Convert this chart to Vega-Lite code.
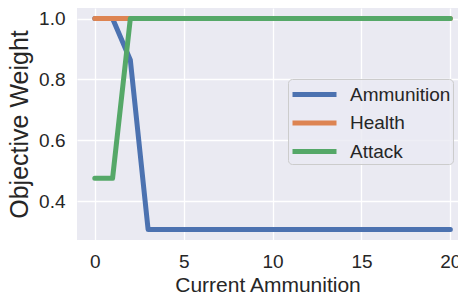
{
  "$schema": "https://vega.github.io/schema/vega-lite/v6.json",
  "width": 381,
  "height": 232,
  "autosize": {"type": "none"},
  "padding": {"left": 77, "top": 8, "right": 0, "bottom": 53},
  "background": "white",
  "config": {
    "font": "Liberation Sans",
    "view": {"fill": "#EAEAF2", "stroke": null},
    "axis": {
      "grid": true,
      "gridColor": "white",
      "gridWidth": 1.3,
      "domain": false,
      "ticks": false,
      "labelColor": "#262626",
      "titleColor": "#262626",
      "titleFontWeight": "normal",
      "labelFontSize": 19,
      "labelFont": "Liberation Sans",
      "titleFont": "Liberation Sans"
    }
  },
  "data": {
    "values": [
      {"x": 0, "s": "Ammunition", "y": 1.0}, {"x": 1, "s": "Ammunition", "y": 1.0}, {"x": 2, "s": "Ammunition", "y": 0.864}, {"x": 3, "s": "Ammunition", "y": 0.307},
      {"x": 4, "s": "Ammunition", "y": 0.307}, {"x": 5, "s": "Ammunition", "y": 0.307}, {"x": 6, "s": "Ammunition", "y": 0.307}, {"x": 7, "s": "Ammunition", "y": 0.307},
      {"x": 8, "s": "Ammunition", "y": 0.307}, {"x": 9, "s": "Ammunition", "y": 0.307}, {"x": 10, "s": "Ammunition", "y": 0.307}, {"x": 11, "s": "Ammunition", "y": 0.307},
      {"x": 12, "s": "Ammunition", "y": 0.307}, {"x": 13, "s": "Ammunition", "y": 0.307}, {"x": 14, "s": "Ammunition", "y": 0.307}, {"x": 15, "s": "Ammunition", "y": 0.307},
      {"x": 16, "s": "Ammunition", "y": 0.307}, {"x": 17, "s": "Ammunition", "y": 0.307}, {"x": 18, "s": "Ammunition", "y": 0.307}, {"x": 19, "s": "Ammunition", "y": 0.307},
      {"x": 20, "s": "Ammunition", "y": 0.307},
      {"x": 0, "s": "Health", "y": 1.0}, {"x": 1, "s": "Health", "y": 1.0}, {"x": 2, "s": "Health", "y": 1.0}, {"x": 3, "s": "Health", "y": 1.0},
      {"x": 4, "s": "Health", "y": 1.0}, {"x": 5, "s": "Health", "y": 1.0}, {"x": 6, "s": "Health", "y": 1.0}, {"x": 7, "s": "Health", "y": 1.0},
      {"x": 8, "s": "Health", "y": 1.0}, {"x": 9, "s": "Health", "y": 1.0}, {"x": 10, "s": "Health", "y": 1.0}, {"x": 11, "s": "Health", "y": 1.0},
      {"x": 12, "s": "Health", "y": 1.0}, {"x": 13, "s": "Health", "y": 1.0}, {"x": 14, "s": "Health", "y": 1.0}, {"x": 15, "s": "Health", "y": 1.0},
      {"x": 16, "s": "Health", "y": 1.0}, {"x": 17, "s": "Health", "y": 1.0}, {"x": 18, "s": "Health", "y": 1.0}, {"x": 19, "s": "Health", "y": 1.0},
      {"x": 20, "s": "Health", "y": 1.0},
      {"x": 0, "s": "Attack", "y": 0.475}, {"x": 1, "s": "Attack", "y": 0.475}, {"x": 2, "s": "Attack", "y": 1.0}, {"x": 3, "s": "Attack", "y": 1.0},
      {"x": 4, "s": "Attack", "y": 1.0}, {"x": 5, "s": "Attack", "y": 1.0}, {"x": 6, "s": "Attack", "y": 1.0}, {"x": 7, "s": "Attack", "y": 1.0},
      {"x": 8, "s": "Attack", "y": 1.0}, {"x": 9, "s": "Attack", "y": 1.0}, {"x": 10, "s": "Attack", "y": 1.0}, {"x": 11, "s": "Attack", "y": 1.0},
      {"x": 12, "s": "Attack", "y": 1.0}, {"x": 13, "s": "Attack", "y": 1.0}, {"x": 14, "s": "Attack", "y": 1.0}, {"x": 15, "s": "Attack", "y": 1.0},
      {"x": 16, "s": "Attack", "y": 1.0}, {"x": 17, "s": "Attack", "y": 1.0}, {"x": 18, "s": "Attack", "y": 1.0}, {"x": 19, "s": "Attack", "y": 1.0},
      {"x": 20, "s": "Attack", "y": 1.0}
    ]
  },
  "encoding": {
    "x": {
      "field": "x", "type": "quantitative",
      "scale": {"domain": [-1, 20.43], "nice": false, "zero": false},
      "axis": {"values": [0, 5, 10, 15, 20], "title": "Current Ammunition", "titleFontSize": 21, "labelPadding": 12, "titlePadding": 3, "labelFlush": false}
    },
    "y": {
      "field": "y", "type": "quantitative",
      "scale": {"domain": [0.2725, 1.0347], "nice": false, "zero": false},
      "axis": {"values": [0.4, 0.6, 0.8, 1.0], "format": ".1f", "title": "Objective Weight", "titleFontSize": 25, "labelPadding": 12, "titlePadding": 6}
    },
    "color": {
      "field": "s", "type": "nominal",
      "scale": {"domain": ["Ammunition", "Health", "Attack"], "range": ["#4C72B0", "#DD8452", "#55A868"]},
      "legend": {
        "title": null,
        "orient": "none",
        "legendX": 211,
        "legendY": 71,
        "fillColor": "rgba(234,234,242,0.8)",
        "strokeColor": "#cccccc",
        "cornerRadius": 4,
        "padding": 2,
        "symbolType": "M-1,0H3",
        "symbolSize": 484,
        "symbolStrokeWidth": 5,
        "rowPadding": 4.5,
        "labelFontSize": 19,
        "labelOffset": 33,
        "labelColor": "#262626",
        "labelFont": "Liberation Sans"
      }
    }
  },
  "layer": [
    {"transform": [{"filter": "datum.s === 'Ammunition'"}], "mark": {"type": "line", "strokeWidth": 5, "strokeCap": "round", "strokeJoin": "round"}},
    {"transform": [{"filter": "datum.s === 'Health'"}], "mark": {"type": "line", "strokeWidth": 5, "strokeCap": "round", "strokeJoin": "round"}},
    {"transform": [{"filter": "datum.s === 'Attack'"}], "mark": {"type": "line", "strokeWidth": 5, "strokeCap": "round", "strokeJoin": "round"}}
  ]
}
